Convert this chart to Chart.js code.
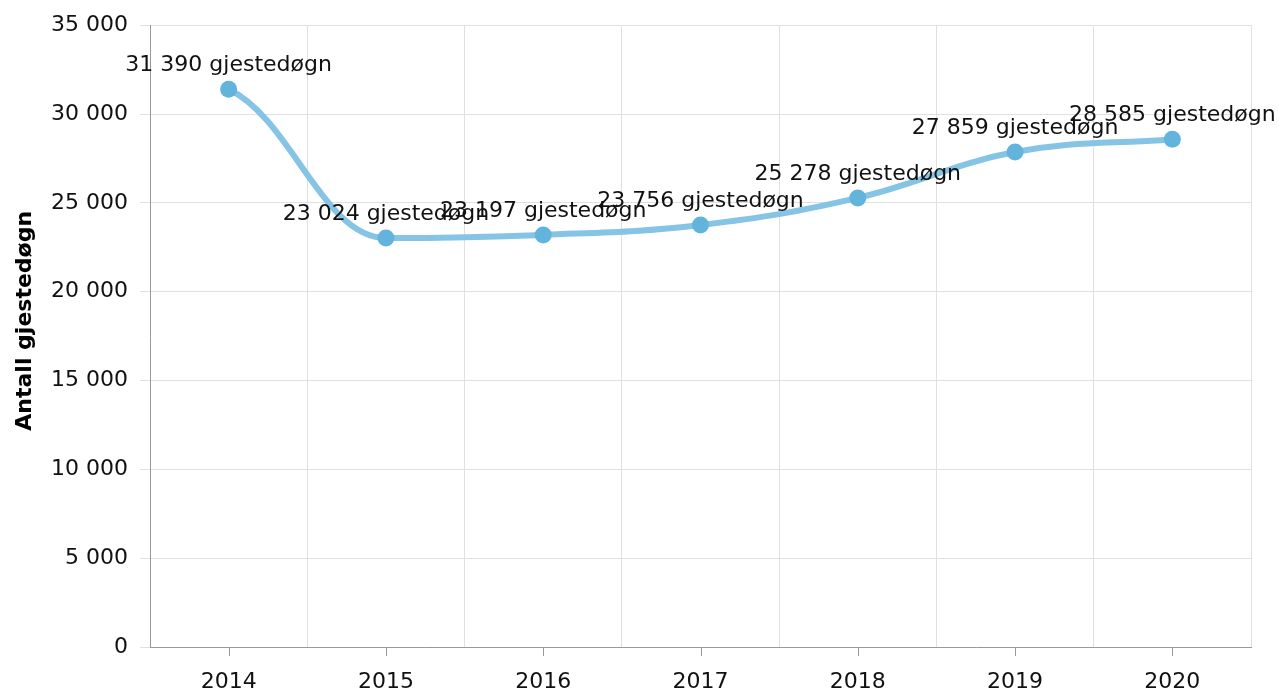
<!DOCTYPE html>
<html>
<head>
<meta charset="utf-8">
<script src="https://cdn.jsdelivr.net/npm/chart.js@4"></script>
<style>
  html, body { margin: 0; padding: 0; background: #fff; }
  #wrap { width: 1279px; height: 693px; }
</style>
</head>
<body>
<div id="wrap"><canvas id="c" width="1279" height="693"></canvas></div>
<script>
const years = ['2014', '2015', '2016', '2017', '2018', '2019', '2020'];
const guestNights = [31390, 23024, 23197, 23756, 25278, 27859, 28585];
const unitLabel = 'gjestedøgn';
const yAxisTitle = 'Antall gjestedøgn';
const yMin = 0, yMax = 35000, yStep = 5000;

function fmt(v) {
  return String(Math.round(v)).replace(/\B(?=(\d{3})+(?!\d))/g, ' ');
}

const FONT = "'DejaVu Sans', Verdana, sans-serif";

// Smooth spline control points (flat tangents at local extremes, no overshoot)
const splineCps = {
  id: 'splineCps',
  beforeDatasetDraw(chart, args) {
    const meta = args.meta;
    const pts = meta.data;
    const n = pts.length;
    const sm = 1.5, den = 2.5;
    for (let i = 0; i < n; i++) {
      const p = pts[i];
      p.cp1x = p.x; p.cp1y = p.y; p.cp2x = p.x; p.cp2y = p.y;
      if (i === 0 && n > 1) {
        const b = pts[1];
        p.cp2x = p.x + (b.x - p.x) * 0.4;
        p.cp2y = p.y + (b.y - p.y) * 0.2;
        continue;
      }
      if (i === n - 1 && n > 1) {
        const a = pts[n - 2];
        p.cp1x = p.x - (p.x - a.x) * 0.4;
        p.cp1y = p.y - (p.y - a.y) * 0.4;
        continue;
      }
      const a = pts[i - 1], b = pts[i + 1];
      let lx = (sm * p.x + a.x) / den, ly = (sm * p.y + a.y) / den;
      let rx = (sm * p.x + b.x) / den, ry = (sm * p.y + b.y) / den;
      if (rx !== lx) {
        const corr = ((ry - ly) * (rx - p.x)) / (rx - lx) + p.y - ry;
        ly += corr; ry += corr;
        if (ly > a.y && ly > p.y) { ly = Math.max(a.y, p.y); ry = 2 * p.y - ly; }
        else if (ly < a.y && ly < p.y) { ly = Math.min(a.y, p.y); ry = 2 * p.y - ly; }
        if (ry > b.y && ry > p.y) { ry = Math.max(b.y, p.y); ly = 2 * p.y - ry; }
        else if (ry < b.y && ry < p.y) { ry = Math.min(b.y, p.y); ly = 2 * p.y - ry; }
      }
      p.cp1x = lx; p.cp1y = ly; p.cp2x = rx; p.cp2y = ry;
    }
    if (meta.dataset) {
      meta.dataset._pointsUpdated = true;
      meta.dataset._path = undefined;
    }
  }
};

const dataLabels = {
  id: 'dataLabels',
  afterDatasetsDraw(chart) {
    const ctx = chart.ctx;
    const meta = chart.getDatasetMeta(0);
    ctx.save();
    ctx.font = '22px ' + FONT;
    ctx.fillStyle = '#111';
    ctx.textAlign = 'center';
    ctx.textBaseline = 'alphabetic';
    meta.data.forEach((pt, i) => {
      ctx.fillText(fmt(guestNights[i]) + ' ' + unitLabel, pt.x, pt.y - 18);
    });
    ctx.restore();
  }
};

const xTickMarks = {
  id: 'xTickMarks',
  afterDraw(chart) {
    const ctx = chart.ctx;
    const xs = chart.scales.x;
    const bottom = chart.chartArea.bottom;
    ctx.save();
    ctx.strokeStyle = '#999';
    ctx.lineWidth = 1;
    years.forEach((y, i) => {
      const px = Math.round(xs.getPixelForValue(i)) + 0.5;
      ctx.beginPath();
      ctx.moveTo(px, bottom);
      ctx.lineTo(px, bottom + 9);
      ctx.stroke();
    });
    ctx.restore();
  }
};

new Chart(document.getElementById('c'), {
  type: 'line',
  data: {
    labels: years,
    datasets: [{
      data: guestNights,
      borderColor: '#85c4e4',
      borderWidth: 6,
      tension: 0.4,
      pointRadius: 8.5,
      pointBackgroundColor: '#62b4dc',
      pointBorderWidth: 0,
      pointHoverRadius: 8.5,
      fill: false
    }]
  },
  options: {
    responsive: false,
    animation: false,
    events: [],
    layout: { padding: { top: 24, right: 28, left: 0, bottom: 0 } },
    plugins: { legend: { display: false }, tooltip: { enabled: false }, title: { display: false } },
    scales: {
      x: {
        type: 'category',
        offset: true,
        grid: { offset: true, drawTicks: false, color: '#e0e0e0', lineWidth: 1 },
        border: { color: '#999', width: 1 },
        ticks: { color: '#111', font: { family: FONT, size: 22 }, padding: 22, maxRotation: 0 },
        afterFit(s) { s.height = 46; }
      },
      y: {
        min: yMin, max: yMax,
        ticks: { stepSize: yStep, color: '#111', font: { family: FONT, size: 22 }, padding: 12,
                 callback: (v) => fmt(v) },
        grid: { color: '#e0e0e0', lineWidth: 1, tickLength: 10, drawTicks: true },
        border: { color: '#999', width: 1 },
        title: { display: true, text: '\u00A0\u00A0\u00A0\u00A0' + yAxisTitle, color: '#000',
                 font: { family: FONT, size: 22, weight: 'bold' }, padding: { top: 12, bottom: 0 } },
        afterFit(s) { s.width = 150; }
      }
    }
  },
  plugins: [splineCps, dataLabels, xTickMarks]
});
</script>
</body>
</html>
